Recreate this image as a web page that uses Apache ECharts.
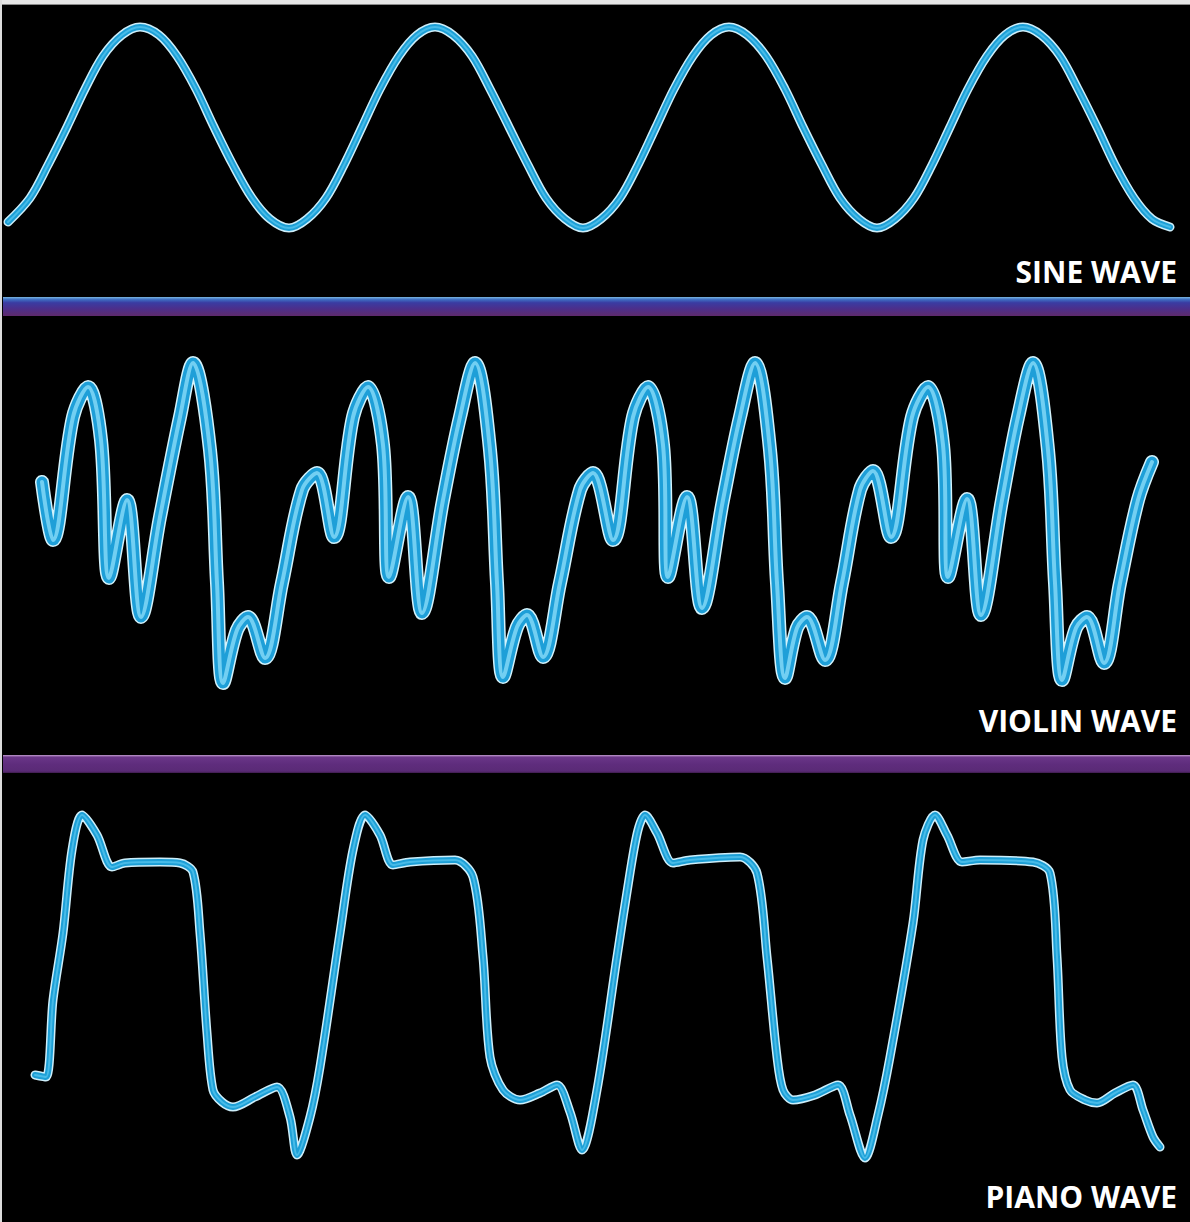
<!DOCTYPE html>
<html>
<head>
<meta charset="utf-8">
<title>Sine, violin and piano waves</title>
<script src="https://cdn.jsdelivr.net/npm/echarts@6/dist/echarts.min.js"></script>
<style>
  html, body { margin: 0; padding: 0; background: #000; }
  #chart { width: 1190px; height: 1222px; }
</style>
</head>
<body>
<div id="chart"></div>
<script>
// ---- Data (time units across, amplitude units up) ----
const panelLabels = ['SINE WAVE', 'VIOLIN WAVE', 'PIANO WAVE'];

const sineT = [8, 30, 48, 67, 85, 103, 122, 140,
  159, 177, 196, 214, 233, 252, 270, 289,
  307, 326, 344, 362, 380, 399, 417, 435,
  453, 472, 490, 509, 528, 546, 565, 583,
  601, 620, 638, 656, 674, 693, 711, 729,
  747, 766, 785, 803, 822, 840, 859, 877,
  895, 914, 932, 950, 968, 987, 1005, 1023,
  1041, 1060, 1078, 1097, 1115, 1134, 1152, 1170];
const sineV = [-95, -71, -38, 0, 38, 71, 92, 100,
  92, 71, 38, 0, -38, -71, -92, -101,
  -92, -71, -38, 0, 38, 71, 92, 100,
  92, 71, 38, 0, -38, -71, -92, -101,
  -92, -71, -38, 0, 38, 71, 92, 100,
  92, 71, 38, 0, -38, -71, -92, -101,
  -92, -71, -38, 0, 38, 71, 92, 100,
  92, 71, 38, 0, -38, -71, -92, -100];

const violinT = [42, 53, 73, 88, 101, 109, 127, 141, 160, 180, 193,
  210, 217, 223, 237, 248, 265, 282, 302, 317, 334, 353, 368, 383, 389, 408, 422, 443, 460,
  475, 490, 497, 503, 517, 527, 543, 560, 580, 593, 613, 633, 648, 663, 668, 687, 702, 723, 740,
  755, 770, 777, 785, 797, 807, 825, 842, 860, 873, 891, 912, 928, 943, 948, 967, 981, 1002, 1018,
  1033, 1048, 1055, 1062, 1076, 1087, 1104, 1120, 1138, 1152];
const violinV = [218, 160, 283, 313, 260, 122, 200, 83, 183, 283, 337,
  250, 117, 17, 70, 83, 42, 117, 210, 227, 163, 283, 313, 255, 123, 203, 87, 200, 283,
  337, 250, 117, 23, 73, 85, 43, 117, 210, 227, 160, 283, 313, 255, 123, 203, 92, 200, 283,
  337, 250, 117, 22, 72, 83, 40, 117, 210, 229, 163, 283, 313, 255, 123, 201, 85, 200, 283,
  337, 250, 117, 20, 72, 83, 37, 117, 200, 238];

const pianoT = [35, 46, 53, 63, 72, 82, 97, 112, 125, 160, 180, 193, 200, 207, 213, 222, 233, 255, 277, 290, 297, 310, 320, 340, 353, 365,
  380, 393, 410, 455, 473, 483, 490, 503, 520, 540, 557, 570, 582, 597, 617, 630, 638, 645,
  657, 673, 690, 740, 757, 767, 777, 783, 793, 815, 838, 850, 865, 878, 890, 913, 923, 935,
  947, 962, 980, 1033, 1050, 1057, 1062, 1070, 1085, 1097, 1115, 1133, 1143, 1153, 1160];
const pianoV = [95, 93, 170, 237, 320, 355, 335, 303, 307, 308, 307, 298, 237, 137, 80, 68, 63, 73, 83, 53, 15, 53, 103, 237, 320, 355,
  335, 305, 308, 310, 293, 213, 113, 80, 70, 77, 85, 58, 20, 80, 213, 297, 340, 355,
  337, 307, 310, 313, 297, 213, 113, 80, 70, 75, 85, 55, 12, 55, 113, 247, 330, 355,
  335, 308, 310, 308, 297, 213, 113, 80, 70, 67, 77, 85, 60, 33, 23];

// ---- Build chart ----
const pair = (T, V) => T.map((t, i) => [t, V[i]]);
const waves = [
  { data: pair(sineT, sineV), smooth: 0.33,
    layers: [[9, '#cdeefa'], [6, '#1d9fd6'], [2, '#47bbe8']] },
  { data: pair(violinT, violinV), smooth: 0.35,
    layers: [[14, '#d3f2fb'], [11, '#1e9fd8'], [4, '#72cff2']] },
  { data: pair(pianoT, pianoV), smooth: 0.3,
    layers: [[9, '#cdeefa'], [6, '#1d9fd6'], [2, '#47bbe8']] }
];

const grids = [
  { left: 0, width: 1190, top: 7, height: 240 },
  { left: 0, width: 1190, top: 340, height: 360 },
  { left: 0, width: 1190, top: 790, height: 380 }
];
const yRanges = [[-120, 120], [0, 360], [0, 380]];

const series = [];
waves.forEach((wv, i) => {
  wv.layers.forEach((ly, k) => {
    series.push({
      type: 'line', xAxisIndex: i, yAxisIndex: i, data: wv.data,
      smooth: wv.smooth, showSymbol: false, symbol: 'none', clip: false,
      z: 2 + k,
      lineStyle: { width: ly[0], color: ly[1], cap: 'round', join: 'round' }
    });
  });
});

const titleTops = [256, 705, 1181];
const chart = echarts.init(document.getElementById('chart'), null, { renderer: 'svg' });
chart.setOption({
  backgroundColor: '#000',
  animation: false,
  title: panelLabels.map((t, i) => ({
    text: t, right: 13, top: titleTops[i], padding: 0,
    textStyle: { color: '#ffffff', fontFamily: 'Open Sans', fontWeight: 'bold', fontSize: 30 }
  })),
  grid: grids,
  xAxis: grids.map((g, i) => ({ type: 'value', gridIndex: i, min: 0, max: 1190, show: false })),
  yAxis: grids.map((g, i) => ({ type: 'value', gridIndex: i, min: yRanges[i][0], max: yRanges[i][1], show: false })),
  series: series,
  graphic: [
    { type: 'rect', shape: { x: 0, y: 0, width: 1190, height: 4 }, style: { fill: '#e6e6e6' }, silent: true },
    { type: 'rect', shape: { x: 0, y: 4, width: 1190, height: 1 }, style: { fill: '#8a8a8a' }, silent: true },
    { type: 'rect', shape: { x: 0, y: 0, width: 2, height: 1222 }, style: { fill: '#dcdcdc' }, silent: true },
    { type: 'rect', shape: { x: 3, y: 297, width: 1187, height: 19 },
      style: { fill: new echarts.graphic.LinearGradient(0, 0, 0, 1, [
        { offset: 0, color: '#7bb6e0' }, { offset: 0.12, color: '#3f72c4' },
        { offset: 0.3, color: '#3a3ca2' }, { offset: 0.6, color: '#4b2f8c' },
        { offset: 1, color: '#5e2a6c' }]) }, silent: true },
    { type: 'rect', shape: { x: 3, y: 755, width: 1187, height: 18 },
      style: { fill: new echarts.graphic.LinearGradient(0, 0, 0, 1, [
        { offset: 0, color: '#c29ccf' }, { offset: 0.12, color: '#6a3688' },
        { offset: 0.5, color: '#5f2d7d' }, { offset: 0.9, color: '#5a2a76' },
        { offset: 1, color: '#3e1c4c' }]) }, silent: true }
  ]
});
</script>
</body>
</html>
